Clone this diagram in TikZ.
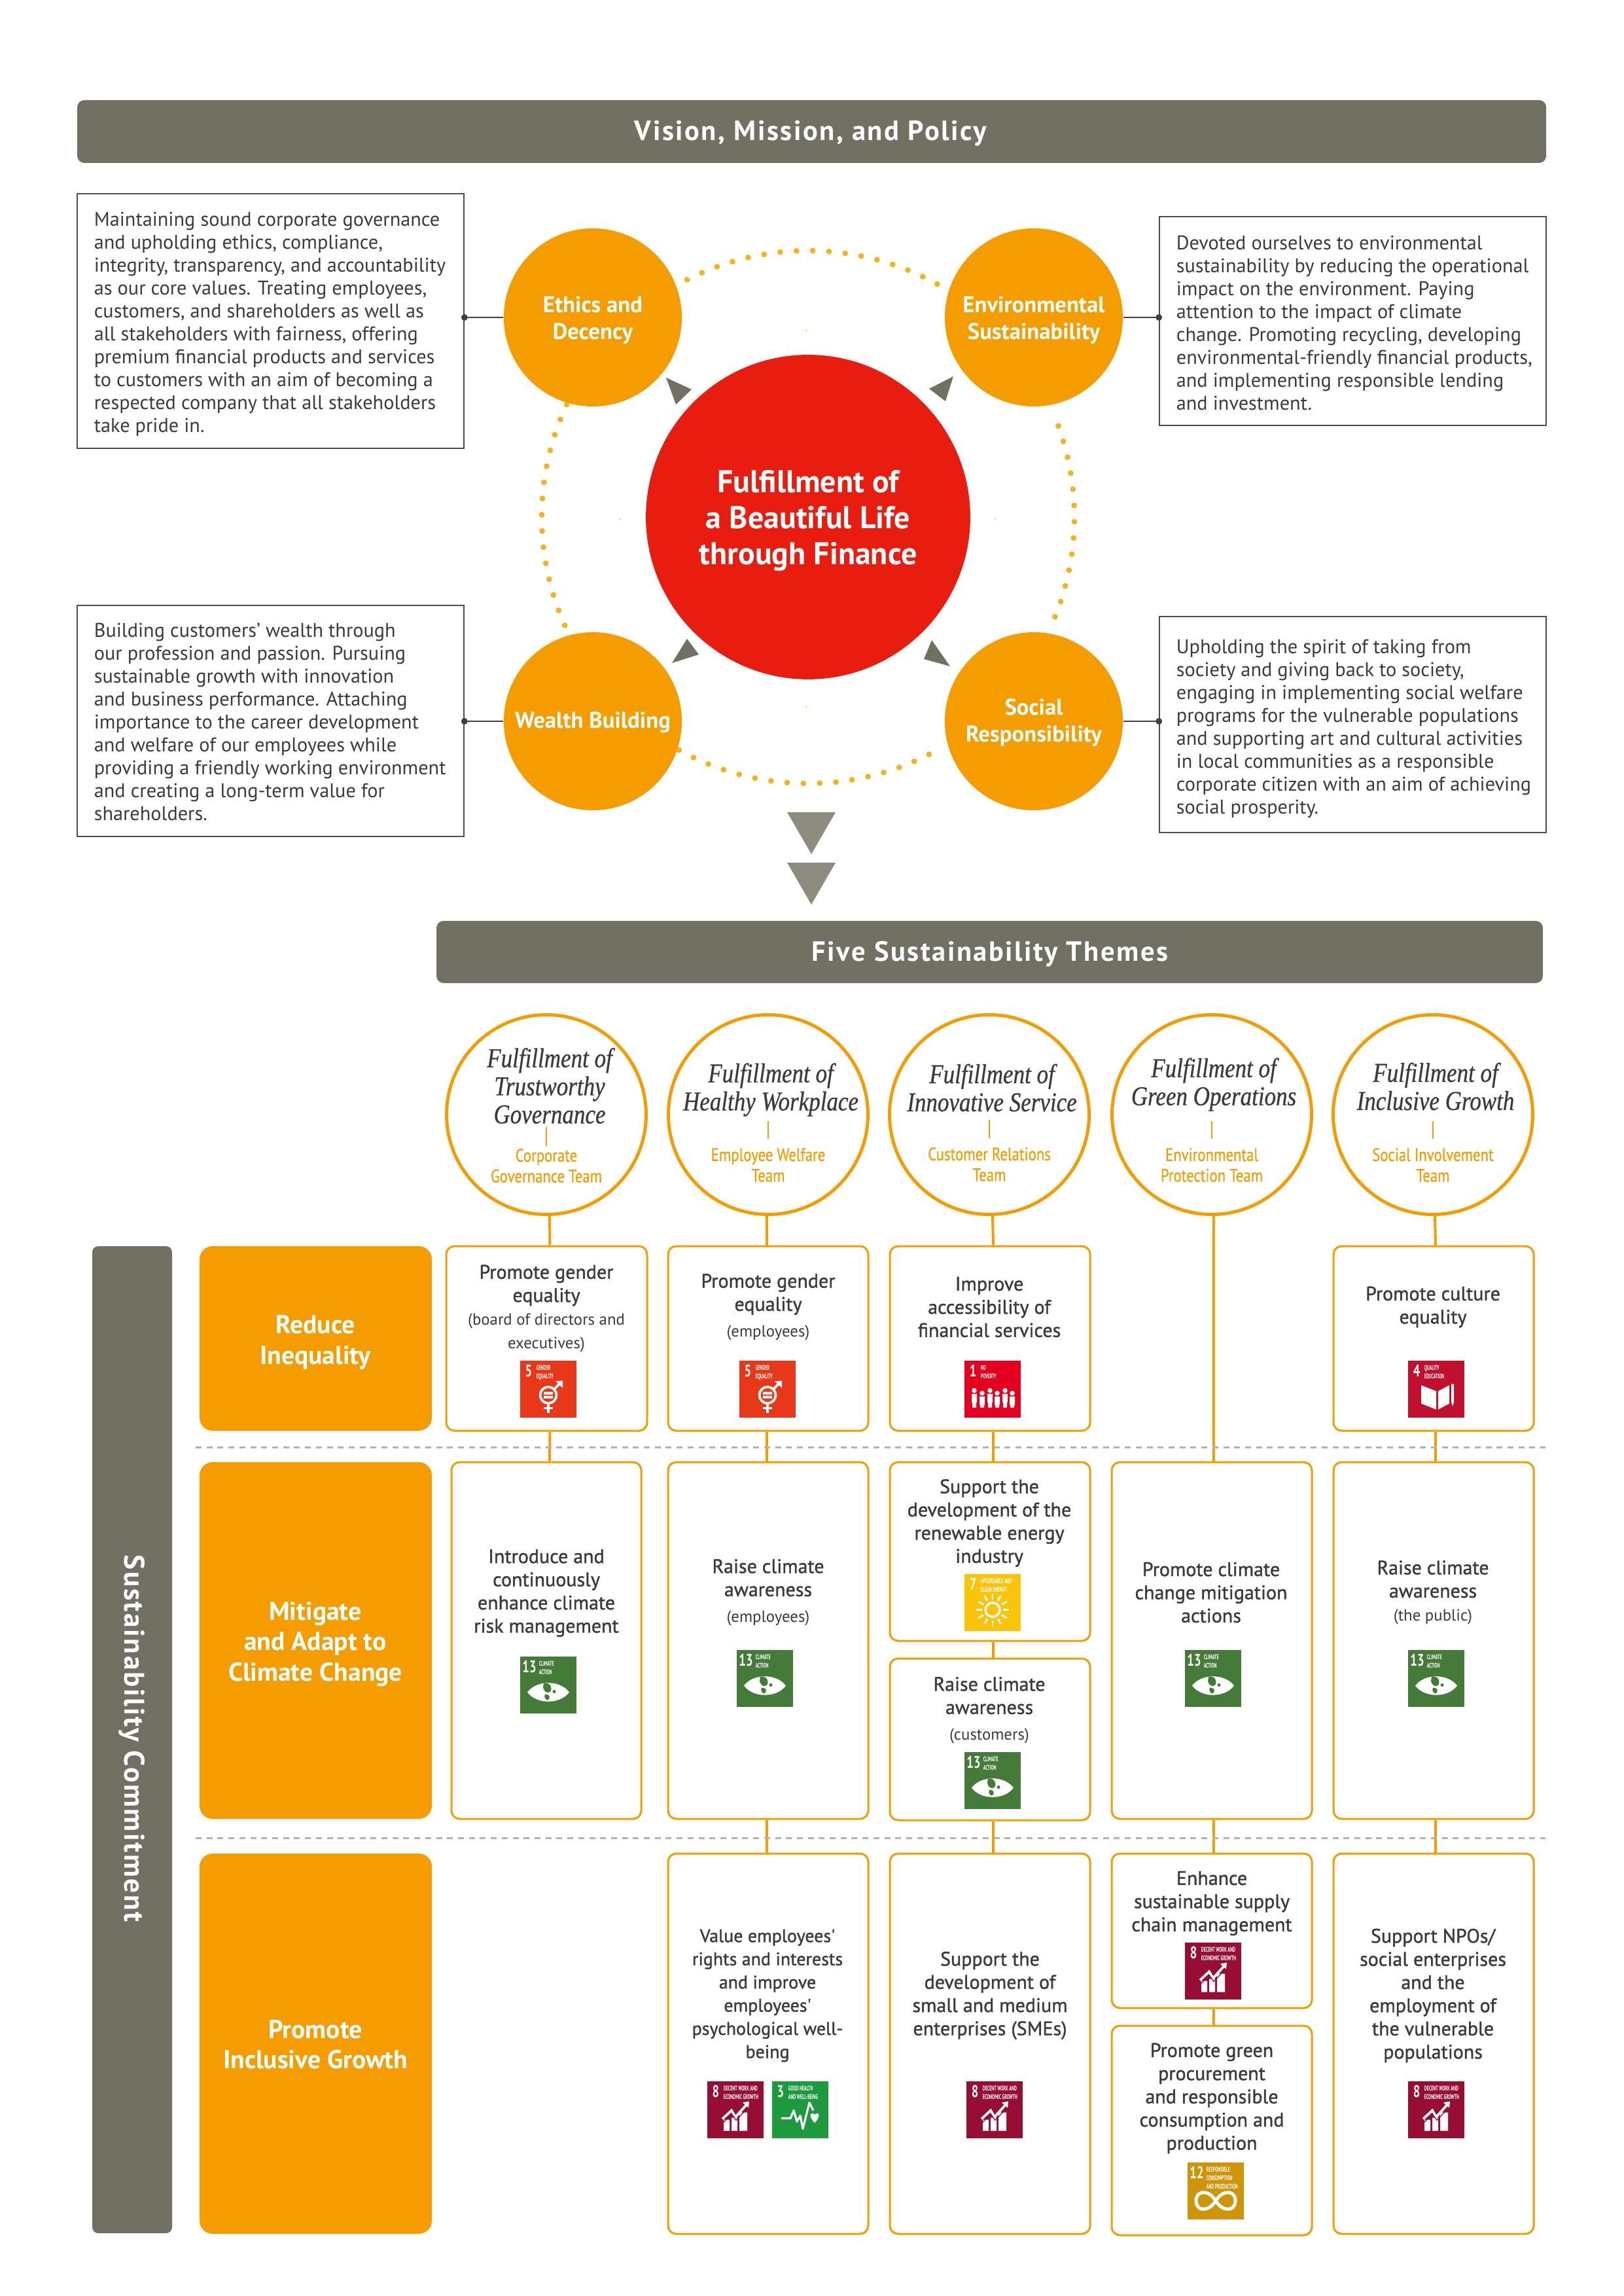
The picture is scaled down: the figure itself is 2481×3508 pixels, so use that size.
\documentclass[tikz,border=0pt]{standalone}
\usepackage{fontspec}
\setmainfont{PT Sans}
\newfontfamily\semib[FakeBold=1.2]{PT Sans}
\newfontfamily\narrowf[FakeStretch=0.82,FakeBold=0.5]{PT Sans}
\newfontfamily\bannerf[LetterSpace=6]{PT Sans}
\newfontfamily\scriptf[FakeStretch=0.84,FakeBold=0.6]{Liberation Serif}
\newfontfamily\sdgt[FakeStretch=0.58]{PT Sans}
\newfontfamily\sdgn[FakeStretch=0.72]{PT Sans}
\definecolor{orng}{HTML}{F59C00}
\definecolor{banner}{HTML}{727062}
\definecolor{tri}{HTML}{8D8C7F}
\definecolor{rd}{HTML}{E91C10}
\definecolor{dotc}{HTML}{F8B216}
\definecolor{ink}{HTML}{3E3A39}
\definecolor{dash}{HTML}{B2B2B2}
\definecolor{sdgi}{HTML}{E5001F}
\definecolor{sdgiii}{HTML}{1E9A3E}
\definecolor{sdgiv}{HTML}{C0102E}
\definecolor{sdgv}{HTML}{E83819}
\definecolor{sdgvii}{HTML}{FBC30A}
\definecolor{sdgviii}{HTML}{970D34}
\definecolor{sdgxii}{HTML}{CF9407}
\definecolor{sdgxiii}{HTML}{447B38}
\tikzset{
  x=0.24pt,y=-0.24pt,
  bannerbox/.style={fill=banner,rounded corners=2.6pt,inner sep=0pt},
  bannertext/.style={text=white,font=\bannerf\bfseries\fontsize{10.2}{12}\selectfont,inner sep=0pt},
  parabox/.style={draw=black!70,line width=0.4pt,fill=white,inner sep=0pt},
  paratext/.style={text=ink,align=left,inner sep=0pt,font=\fontsize{7.27}{8.4}\selectfont},
  pillar/.style={circle,fill=orng,inner sep=0pt,minimum size=65.3pt},
  pillartext/.style={text=white,align=center,inner sep=0pt,font=\bfseries\fontsize{8.35}{9.8}\selectfont},
  teamcircle/.style={circle,draw=orng,line width=1.2pt,fill=white,inner sep=0pt,minimum size=73.2pt},
  themetext/.style={text=ink,align=center,inner sep=0pt,font=\scriptf\itshape\fontsize{10}{10.3}\selectfont},
  teamtext/.style={text=orng,align=center,inner sep=0pt,font=\narrowf\fontsize{6.65}{7.6}\selectfont},
  tickline/.style={draw=orng,line width=0.45pt},
  catbox/.style={fill=orng,rounded corners=4.8pt,inner sep=0pt},
  cattext/.style={text=white,align=center,inner sep=0pt,font=\bfseries\fontsize{9.5}{11.1}\selectfont},
  actbox/.style={draw=orng,line width=0.72pt,fill=white,rounded corners=3pt,inner sep=0pt},
  acttext/.style={text=ink,align=center,inner sep=0pt,font=\semib\fontsize{7.2}{8.5}\selectfont},
  connline/.style={draw=orng,line width=0.95pt},
  blackline/.style={draw=black!75,line width=0.4pt},
  sepline/.style={draw=dash,line width=0.72pt,dash pattern=on 2.16pt off 1.85pt},
  wline/.style={draw=white,line width=0.9pt},
  sdgnum/.style={text=white,inner sep=0pt,font=\sdgn\bfseries\fontsize{6.2}{7}\selectfont},
  sdgtitle/.style={text=white,inner sep=0pt,align=left,font=\sdgt\bfseries\fontsize{2.5}{3.1}\selectfont},
}
\newcommand{\sub}[1]{{\normalfont\fontsize{5.95}{7.1}\selectfont #1}}
\newcommand{\pxbox}[7][]{\node[#2,minimum width={(#6-#4)*0.24pt},minimum height={(#7-#5)*0.24pt},#1] (#3) at ({(#4+#6)/2},{(#5+#7)/2}) {};}
\newcommand{\conn}[3]{\draw[connline] ([xshift=#3*0.24pt]#1.south) -- ([xshift=#3*0.24pt]#2.north);}
% glyphs
\newcommand{\gGender}{%
  \draw[wline] (43,53) circle[radius=3pt];
  \draw[wline] (52,44) -- (61,35);
  \fill[white] (54,32) -- (65,31) -- (65,42) -- cycle;
  \draw[wline] (43,66) -- (43,80) (36,73) -- (50,73);
  \fill[white] (36,48) rectangle (50,52) (36,54) rectangle (50,58);}
\newcommand{\gGrowth}{%
  \fill[white] (25,59) rectangle (34,76) (37,56) rectangle (46,76) (49,48) rectangle (61,76);
  \draw[draw=white,line width=0.9pt] (23,58) -- (37,45) -- (43,55) -- (60,36);
  \draw[draw=sdgviii,line width=0.3pt] (25,63) -- (37,50) -- (44,60) -- (61,42);
  \fill[white] (54,33) -- (64,31) -- (63,41) -- cycle;}
\newcommand{\gHealth}{%
  \draw[draw=white,line width=0.75pt,line join=round] (14,57) -- (28,57) -- (33,45) -- (38,62) -- (43,53) -- (47,73) -- (57,33) -- (63,45);
  \fill[white] (65,64) .. controls (56,55) and (57,46) .. (65,51) .. controls (73,46) and (74,55) .. (65,64);}
\newcommand{\gEye}[1]{%
  \fill[white] (11,55) .. controls (25,36) and (61,36) .. (75,55) .. controls (61,74) and (25,74) .. (11,55);
  \fill[#1] (36,41) .. controls (46,40) and (50,48) .. (46,54) .. controls (42,58) and (36,54) .. (35,48) -- cycle;
  \fill[#1] (38,58) .. controls (44,58) and (48,62) .. (42,67) .. controls (38,66) and (36,62) .. (38,58);
  \fill[#1] (52,54) circle[radius=0.6pt];}
\newcommand{\gBook}{%
  \fill[white] (20,38) -- (43,47) -- (43,75) -- (20,66) -- cycle;
  \fill[white] (46,47) -- (63,38) -- (63,66) -- (46,75) -- cycle;
  \fill[white] (66,36) rectangle (70,64) (66,64) -- (70,64) -- (68,70) -- cycle;}
\newcommand{\gPeople}{%
  \foreach \px/\py in {15/46,27/50,39/46,50/50,62/46,73/50}{%
    \fill[white] (\px,\py) circle[radius=0.9pt];
    \fill[white] ({\px-4},{\py+5}) rectangle ({\px+4},{\py+18}) ({\px-3},{\py+18}) rectangle ({\px+3},72);}}
\newcommand{\gSun}{%
  \draw[draw=white,line width=0.8pt] (43,55) circle[radius=2.6pt];
  \foreach \ang in {0,30,...,330}{\draw[draw=white,line width=0.7pt] ({43+16*cos(\ang)},{55+16*sin(\ang)}) -- ({43+25*cos(\ang)},{55+25*sin(\ang)});}}
\newcommand{\gInf}{%
  \draw[draw=white,line width=1.2pt] (43,59) .. controls (33,42) and (13,42) .. (13,59) .. controls (13,76) and (33,76) .. (43,59) .. controls (53,42) and (73,42) .. (73,59) .. controls (73,76) and (53,76) .. (43,59);}
% icon: name, cx, cy, colour, number, number x, title x, title, glyph
\newcommand{\sdg}[9]{%
  \begin{scope}[shift={({#2-43},{#3-43.5})}]
    \fill[#4] (0,0) rectangle (86,87);
    \node[sdgnum] (#1n) at (#6,16) {#5};
    \node[sdgtitle,anchor=north west] (#1t) at (#7,7) {#8};
    #9
  \end{scope}}
\begin{document}
\begin{tikzpicture}
\useasboundingbox (0,0) rectangle (2481,3508);
% Banners
\pxbox{bannerbox}{topbanner}{118}{153}{2363}{249}
\node[bannertext] (toptext) at (1239,204) {Vision, Mission, and Policy};
\pxbox{bannerbox}{midbanner}{667}{1407}{2358}{1502}
\node[bannertext] (midtext) at (1513,1458) {Five Sustainability Themes};
% Dotted ring
\foreach \a in {61,64.5,...,118}{\fill[dotc] ({1235+407*cos(\a)},{790-407*sin(\a)}) circle[radius=1.05pt];}
\foreach \a in {155,158.5,...,205}{\fill[dotc] ({1235+407*cos(\a)},{790-407*sin(\a)}) circle[radius=1.05pt];}
\foreach \a in {-22,-18.5,...,23}{\fill[dotc] ({1235+407*cos(\a)},{790-407*sin(\a)}) circle[radius=1.05pt];}
\foreach \a in {241,244.5,...,300}{\fill[dotc] ({1235+407*cos(\a)},{790-407*sin(\a)}) circle[radius=1.05pt];}
\foreach \px/\py in {1232/505,948/793,1521/793,1232/1080}{\fill[dotc] (\px,\py) circle[radius=0.25pt];}
% Centre
\node[circle,fill=rd,inner sep=0pt,minimum size=119pt,inner ysep=0pt] (centre) at (1235,790) {};
\node[text=white,align=center,inner sep=0pt,font=\bfseries\fontsize{11.5}{13.2}\selectfont] (centret) at (1235,796) {Fulfillment of\\a Beautiful Life\\through Finance};
\node[pillar] (p1) at (906,485) {};
\node[pillar] (p2) at (1580,485) {};
\node[pillar] (p3) at (906,1102) {};
\node[pillar] (p4) at (1580,1102) {};
\node[pillartext] (p1t) at (906,489) {Ethics and\\Decency};
\node[pillartext] (p2t) at (1580,489) {Environmental\\Sustainability};
\node[pillartext] (p3t) at (906,1104) {Wealth Building};
\node[pillartext] (p4t) at (1580,1104) {Social\\Responsibility};
% Small triangles
\fill[banner] (1018,577) -- (1057,595) -- (1033,618) -- cycle;
\fill[banner] (1457,575) -- (1420,594) -- (1445,613) -- cycle;
\fill[banner] (1050,976) -- (1027,1013) -- (1068,1000) -- cycle;
\fill[banner] (1424,978) -- (1412,1007) -- (1452,1018) -- cycle;
% Big triangles
\fill[tri] (1203,1241) -- (1277,1241) -- (1240,1305) -- cycle;
\fill[tri] (1203,1318) -- (1277,1318) -- (1240,1382) -- cycle;
% Paragraph boxes
\pxbox{parabox}{t1}{118}{296}{709}{685}
\pxbox{parabox}{t2}{1772}{331}{2363}{650}
\pxbox{parabox}{t3}{118}{925}{709}{1278}
\pxbox{parabox}{t4}{1772}{942}{2363}{1272}
\node[paratext,anchor=west] (t1t) at (143,495) {Maintaining sound corporate governance\\and upholding ethics, compliance,\\integrity, transparency, and accountability\\as our core values. Treating employees,\\customers, and shareholders as well as\\all stakeholders with fairness, offering\\premium financial products and services\\to customers with an aim of becoming a\\respected company that all stakeholders\\take pride in.};
\node[paratext,anchor=west] (t2t) at (1797,493) {Devoted ourselves to environmental\\sustainability by reducing the operational\\impact on the environment. Paying\\attention to the impact of climate\\change. Promoting recycling, developing\\environmental-friendly financial products,\\and implementing responsible lending\\and investment.};
\node[paratext,anchor=west] (t3t) at (143,1103) {Building customers' wealth through\\our profession and passion. Pursuing\\sustainable growth with innovation\\and business performance. Attaching\\importance to the career development\\and welfare of our employees while\\providing a friendly working environment\\and creating a long-term value for\\shareholders.};
\node[paratext,anchor=west] (t4t) at (1797,1113) {Upholding the spirit of taking from\\society and giving back to society,\\engaging in implementing social welfare\\programs for the vulnerable populations\\and supporting art and cultural activities\\in local communities as a responsible\\corporate citizen with an aim of achieving\\social prosperity.};
% Box connectors with dots
\draw[blackline] (t1.east |- p1) -- (p1.west);
\draw[blackline] (t2.west |- p2) -- (p2.east);
\draw[blackline] (t3.east |- p3) -- (p3.west);
\draw[blackline] (t4.west |- p4) -- (p4.east);
\fill[black!75] (t1.east |- p1) circle[radius=1.2pt];
\fill[black!75] (t2.west |- p2) circle[radius=1.2pt];
\fill[black!75] (t3.east |- p3) circle[radius=1.2pt];
\fill[black!75] (t4.west |- p4) circle[radius=1.2pt];
% Team circles
\node[teamcircle] (c1) at (835,1703) {};
\node[teamcircle] (c2) at (1174,1703) {};
\node[teamcircle] (c3) at (1512,1703) {};
\node[teamcircle] (c4) at (1852,1703) {};
\node[teamcircle] (c5) at (2190,1703) {};
\node[themetext] (c1t) at (840,1659) {Fulfillment of\\Trustworthy\\Governance};
\node[themetext] (c2t) at (1178,1665) {Fulfillment of\\Healthy Workplace};
\node[themetext] (c3t) at (1516,1662) {Fulfillment of\\Innovative Service};
\node[themetext] (c4t) at (1855,1657) {Fulfillment of\\Green Operations};
\node[themetext] (c5t) at (2194,1660) {Fulfillment of\\Inclusive Growth};
\coordinate (k1a) at (835,1722); \coordinate (k1b) at (835,1751);
\coordinate (k2a) at (1174,1713); \coordinate (k2b) at (1174,1740);
\coordinate (k3a) at (1512,1711); \coordinate (k3b) at (1512,1739);
\coordinate (k4a) at (1852,1713); \coordinate (k4b) at (1852,1740);
\coordinate (k5a) at (2190,1713); \coordinate (k5b) at (2190,1740);
\foreach \i in {1,...,5}{\draw[tickline] (k\i a) -- (k\i b);}
\node[teamtext] (c1o) at (835,1781) {Corporate\\Governance Team};
\node[teamtext] (c2o) at (1174,1780) {Employee Welfare\\Team};
\node[teamtext] (c3o) at (1512,1779) {Customer Relations\\Team};
\node[teamtext] (c4o) at (1852,1780) {Environmental\\Protection Team};
\node[teamtext] (c5o) at (2190,1780) {Social Involvement\\Team};
% Side bar & category boxes
\pxbox[rounded corners=2.2pt]{catbox,fill=banner}{sidebar}{141}{1904}{263}{3412}
\node[bannertext,rotate=-90,font=\bannerf\bfseries\fontsize{10.4}{12}\selectfont] (sidetext) at (202,2656) {Sustainability Commitment};
\pxbox{catbox}{r1}{305}{1904}{660}{2186}
\pxbox{catbox}{r2}{305}{2234}{660}{2779}
\pxbox{catbox}{r3}{305}{2832}{660}{3413}
\node[cattext] (r1t) at (482,2051) {Reduce\\Inequality};
\node[cattext] (r2t) at (482,2512) {Mitigate\\and Adapt to\\Climate Change};
\node[cattext] (r3t) at (482,3124) {Promote\\Inclusive Growth};
% Action boxes
\pxbox{actbox}{b11}{682}{1904}{989}{2186}
\pxbox{actbox}{b12}{1021}{1904}{1327}{2186}
\pxbox{actbox}{b13}{1360}{1904}{1666}{2186}
\pxbox{actbox}{b15}{2038}{1904}{2344}{2186}
\pxbox{actbox}{b21}{690}{2234}{980}{2779}
\pxbox{actbox}{b22}{1021}{2234}{1327}{2779}
\pxbox{actbox}{b23a}{1360}{2234}{1666}{2507}
\pxbox{actbox}{b23b}{1360}{2534}{1666}{2781}
\pxbox{actbox}{b24}{1699}{2234}{2005}{2779}
\pxbox{actbox}{b25}{2038}{2234}{2344}{2779}
\pxbox{actbox}{b32}{1021}{2832}{1327}{3413}
\pxbox{actbox}{b33}{1360}{2832}{1666}{3413}
\pxbox{actbox}{b34a}{1699}{2832}{2005}{3068}
\pxbox{actbox}{b34b}{1699}{3095}{2005}{3415}
\pxbox{actbox}{b35}{2038}{2832}{2344}{3413}
% Connectors
\conn{c1}{b11}{5}
\conn{b11}{b21}{5}
\conn{c2}{b12}{-2}
\conn{b12}{b22}{-2}
\conn{b22}{b32}{-2}
\conn{c3}{b13}{5}
\conn{b13}{b23a}{5}
\conn{b23a}{b23b}{5}
\conn{b23b}{b33}{5}
\conn{c4}{b24}{3}
\conn{b24}{b34a}{3}
\conn{b34a}{b34b}{3}
\conn{c5}{b15}{3}
\conn{b15}{b25}{3}
\conn{b25}{b35}{3}
% Separators
\coordinate (s1a) at (299,2211); \coordinate (s1b) at (2362,2211);
\coordinate (s2a) at (299,2808); \coordinate (s2b) at (2362,2808);
\draw[sepline] (s1a) -- (s1b);
\draw[sepline] (s2a) -- (s2b);
% Action texts
\node[acttext] (b11t) at (835,1999) {Promote gender\\equality\\\sub{(board of directors and}\\\sub{executives)}};
\node[acttext] (b12t) at (1174,1997) {Promote gender\\equality\\[1pt]\sub{(employees)}};
\node[acttext] (b13t) at (1512,1997) {Improve\\accessibility of\\financial services};
\node[acttext] (b15t) at (2190,1997) {Promote culture\\equality};
\node[acttext] (b21t) at (835,2434) {Introduce and\\continuously\\enhance climate\\risk management};
\node[acttext] (b22t) at (1174,2433) {Raise climate\\awareness\\[1pt]\sub{(employees)}};
\node[acttext] (b23at) at (1512,2327) {Support the\\development of the\\renewable energy\\industry};
\node[acttext] (b23bt) at (1512,2613) {Raise climate\\awareness\\[1pt]\sub{(customers)}};
\node[acttext] (b24t) at (1851,2433) {Promote climate\\change mitigation\\actions};
\node[acttext] (b25t) at (2190,2433) {Raise climate\\awareness\\\sub{(the public)}};
\node[acttext,font=\semib\fontsize{6.7}{8.5}\selectfont] (b32t) at (1173,3049) {Value employees'\\rights and interests\\and improve\\employees'\\psychological well-\\being};
\node[acttext] (b33t) at (1513,3049) {Support the\\development of\\small and medium\\enterprises (SMEs)};
\node[acttext] (b34at) at (1852,2908) {Enhance\\sustainable supply\\chain management};
\node[acttext] (b34bt) at (1852,3206) {Promote green\\procurement\\and responsible\\consumption and\\production};
\node[acttext] (b35t) at (2190,3049) {Support NPOs/\\social enterprises\\and the\\employment of\\the vulnerable\\populations};
% SDG icons
\sdg{i1}{838}{2122}{sdgv}{5}{13}{24}{GENDER\\EQUALITY}{\gGender}
\sdg{i2}{1173}{2122}{sdgv}{5}{13}{24}{GENDER\\EQUALITY}{\gGender}
\sdg{i3}{1517}{2122}{sdgi}{1}{13}{24}{NO\\POVERTY}{\gPeople}
\sdg{i4}{2195}{2122}{sdgiv}{4}{13}{24}{QUALITY\\EDUCATION}{\gBook}
\sdg{i5}{838}{2574}{sdgxiii}{13}{14}{28}{CLIMATE\\ACTION}{\gEye{sdgxiii}}
\sdg{i6}{1169}{2564}{sdgxiii}{13}{14}{28}{CLIMATE\\ACTION}{\gEye{sdgxiii}}
\sdg{i7}{1517}{2448}{sdgvii}{7}{13}{24}{AFFORDABLE AND\\CLEAN ENERGY}{\gSun}
\sdg{i8}{1517}{2720}{sdgxiii}{13}{14}{28}{CLIMATE\\ACTION}{\gEye{sdgxiii}}
\sdg{i9}{1854}{2564}{sdgxiii}{13}{14}{28}{CLIMATE\\ACTION}{\gEye{sdgxiii}}
\sdg{i10}{2195}{2564}{sdgxiii}{13}{14}{28}{CLIMATE\\ACTION}{\gEye{sdgxiii}}
\sdg{i11}{1124}{3223}{sdgviii}{8}{13}{24}{DECENT WORK AND\\ECONOMIC GROWTH}{\gGrowth}
\sdg{i12}{1223}{3223}{sdgiii}{3}{13}{24}{GOOD HEALTH\\AND WELL-BEING}{\gHealth}
\sdg{i13}{1520}{3223}{sdgviii}{8}{13}{24}{DECENT WORK AND\\ECONOMIC GROWTH}{\gGrowth}
\sdg{i14}{1854}{3011}{sdgviii}{8}{13}{24}{DECENT WORK AND\\ECONOMIC GROWTH}{\gGrowth}
\sdg{i15}{1858}{3347}{sdgxii}{12}{14}{28}{RESPONSIBLE\\CONSUMPTION\\AND PRODUCTION}{\gInf}
\sdg{i16}{2195}{3223}{sdgviii}{8}{13}{24}{DECENT WORK AND\\ECONOMIC GROWTH}{\gGrowth}
\end{tikzpicture}
\end{document}
